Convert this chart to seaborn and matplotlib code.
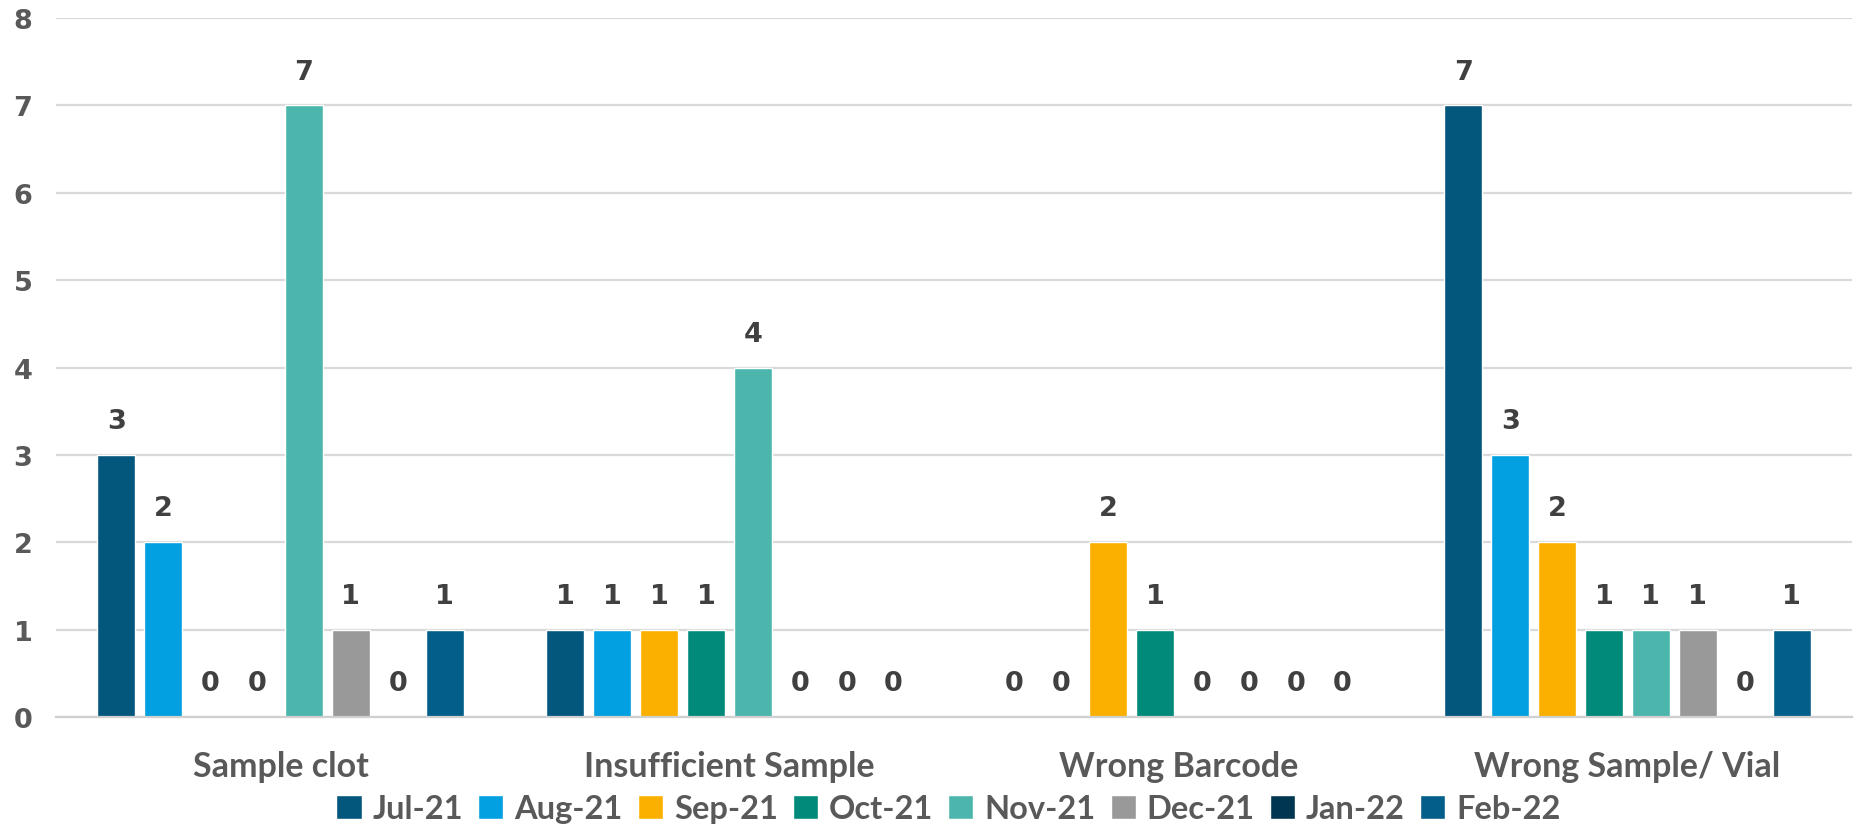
import matplotlib
matplotlib.use("Agg")
import matplotlib.pyplot as plt
import seaborn as sns
import pandas as pd

categories = ["Sample clot", "Insufficient Sample", "Wrong Barcode", "Wrong Sample/ Vial"]
months = ["Jul-21", "Aug-21", "Sep-21", "Oct-21", "Nov-21", "Dec-21", "Jan-22", "Feb-22"]
values = {
    "Jul-21": [3, 1, 0, 7],
    "Aug-21": [2, 1, 0, 3],
    "Sep-21": [0, 1, 2, 2],
    "Oct-21": [0, 1, 1, 1],
    "Nov-21": [7, 4, 0, 1],
    "Dec-21": [1, 0, 0, 1],
    "Jan-22": [0, 0, 0, 0],
    "Feb-22": [1, 0, 0, 1],
}
colors = ["#04577C", "#02A0E0", "#FBB000", "#018A79", "#4DB6AC", "#999999", "#003650", "#035F89"]
y_ticks = [0, 1, 2, 3, 4, 5, 6, 7, 8]

rows = []
for m in months:
    for c, v in zip(categories, values[m]):
        rows.append({"Category": c, "Month": m, "Count": v})
df = pd.DataFrame(rows)

sns.set_theme(style="white")
plt.rcParams["font.family"] = ["Lato", "DejaVu Sans"]

fig = plt.figure(figsize=(18.58, 8.29), dpi=100)
ax = fig.add_axes([56 / 1858, 1 - 718 / 829, (1852 - 56) / 1858, (718 - 19) / 829])

sns.barplot(data=df, x="Category", y="Count", hue="Month", order=categories,
            hue_order=months, palette=colors, width=0.835, gap=0.19,
            saturation=1, ax=ax, legend=True)

for cont in ax.containers:
    ax.bar_label(cont, fmt="%d", padding=15, fontsize=19.5, fontweight="bold",
                 color="#404040", family="DejaVu Sans")

ax.set_ylim(0, 8)
ax.set_xlim(-0.5, len(categories) - 0.5)
ax.set_yticks(y_ticks)
ax.yaxis.grid(True, color="#d9d9d9", linewidth=1.6)
ax.set_axisbelow(True)
for s in ["top", "right", "left"]:
    ax.spines[s].set_visible(False)
ax.spines["bottom"].set_color("#d0d0d0")
ax.spines["bottom"].set_linewidth(1.6)
ax.tick_params(axis="both", length=0, labelcolor="#595959")
ax.tick_params(axis="y", pad=17, labelsize=19.5)
ax.tick_params(axis="x", pad=24, labelsize=24.5)
for lab in ax.get_xticklabels():
    lab.set_fontweight("bold")
for lab in ax.get_yticklabels():
    lab.set_fontweight("bold")
    lab.set_family("DejaVu Sans")
ax.set_xlabel("")
ax.set_ylabel("")

handles, labels = ax.get_legend_handles_labels()
ax.get_legend().remove()
leg = fig.legend(handles, labels, loc="center", bbox_to_anchor=(948.5 / 1858, 1 - 810 / 829),
                 ncol=8, frameon=False, handlelength=0.77, handleheight=0.77,
                 handletextpad=0.34, columnspacing=0.46,
                 prop={"weight": "bold", "size": 23.5})
for t in leg.get_texts():
    t.set_color("#595959")

fig.savefig("out.png", dpi=100)
